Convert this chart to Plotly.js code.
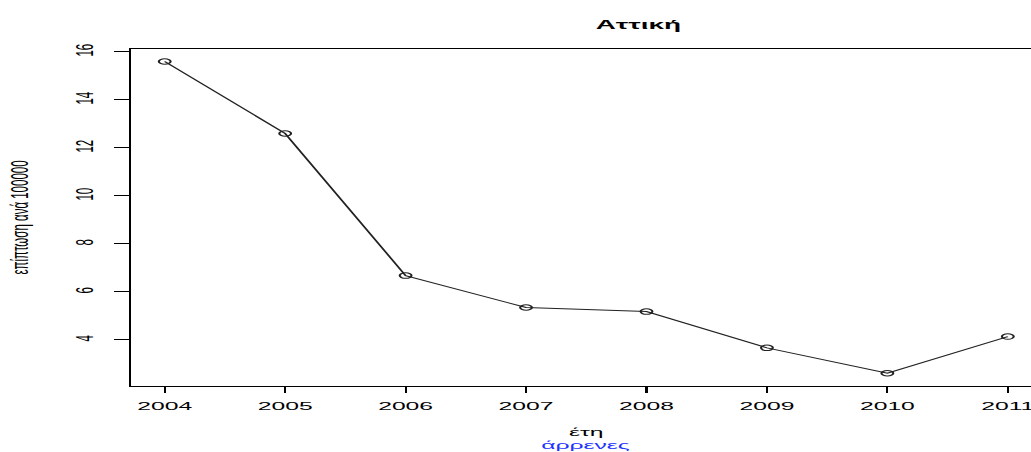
<!DOCTYPE html>
<html>
<head>
<meta charset="utf-8">
<script src="https://cdn.plot.ly/plotly-3.0.1.min.js"></script>
<style>
  html, body { margin: 0; padding: 0; background: #fff; overflow: hidden; }
  #wrap { width: 1031px; height: 452px; overflow: hidden; position: relative; }
  #plot { width: 490px; height: 452px; transform: scaleX(2.1475); transform-origin: 0 0; }
</style>
</head>
<body>
<div id="wrap"><div id="plot"></div></div>
<script>
const years = [2004, 2005, 2006, 2007, 2008, 2009, 2010, 2011];
const incidence = [15.6, 12.6, 6.68, 5.35, 5.18, 3.67, 2.61, 4.14];
const yTicks = [4, 6, 8, 10, 12, 14, 16];
const titleText = "Αττική";
const xTitle = "έτη";
const subTitle = "άρρενες";
const yTitle = "επίπτωση ανά 100000";

const font = "Liberation Sans, Arial, Helvetica, sans-serif";

const trace = {
  x: years,
  y: incidence,
  type: "scatter",
  mode: "lines+markers",
  line: { color: "#222", width: 1 },
  marker: { symbol: "circle-open", size: 5.5, color: "#222", line: { width: 1, color: "#222" } },
  hoverinfo: "skip"
};

const layout = {
  width: 490,
  height: 452,
  margin: { l: 61, r: 5, t: 49, b: 66 },
  paper_bgcolor: "#fff",
  plot_bgcolor: "#fff",
  showlegend: false,
  font: { family: font, color: "#000", size: 11.5 },
  title: {
    text: "<b>" + titleText + "</b>",
    font: { family: font, size: 13, color: "#000" },
    x: 0.5573, xref: "paper", xanchor: "center",
    y: 1 - 24 / 452, yref: "container", yanchor: "middle"
  },
  xaxis: {
    range: [2003.72, 2011.28],
    tickvals: years,
    ticktext: years.map(String),
    ticks: "outside", ticklen: 6, tickwidth: 1, tickcolor: "#000",
    ticklabelstandoff: 3,
    showline: true, linecolor: "#000", linewidth: 1, mirror: true,
    showgrid: false, zeroline: false,
    tickfont: { family: font, size: 11.5, color: "#000" },
    title: { text: xTitle, font: { family: font, size: 11.5, color: "#000" }, standoff: 17 }
  },
  yaxis: {
    range: [2.08, 16.12],
    tickvals: yTicks,
    ticktext: yTicks.map(String),
    tickangle: -90,
    ticks: "outside", ticklen: 7, tickwidth: 1, tickcolor: "#000",
    ticklabelstandoff: 5,
    showline: true, linecolor: "#000", linewidth: 1, mirror: true,
    showgrid: false, zeroline: false,
    tickfont: { family: font, size: 11.5, color: "#000" },
    title: { text: yTitle, font: { family: font, size: 11.5, color: "#000" }, standoff: 17 }
  },
  annotations: [{
    text: subTitle,
    xref: "paper", yref: "paper",
    x: 0.5, y: 0, xanchor: "center", yanchor: "middle",
    yshift: -59,
    showarrow: false,
    font: { family: font, size: 11.5, color: "#2233ff" }
  }]
};

Plotly.newPlot("plot", [trace], layout, { displayModeBar: false, staticPlot: true });
</script>
</body>
</html>
